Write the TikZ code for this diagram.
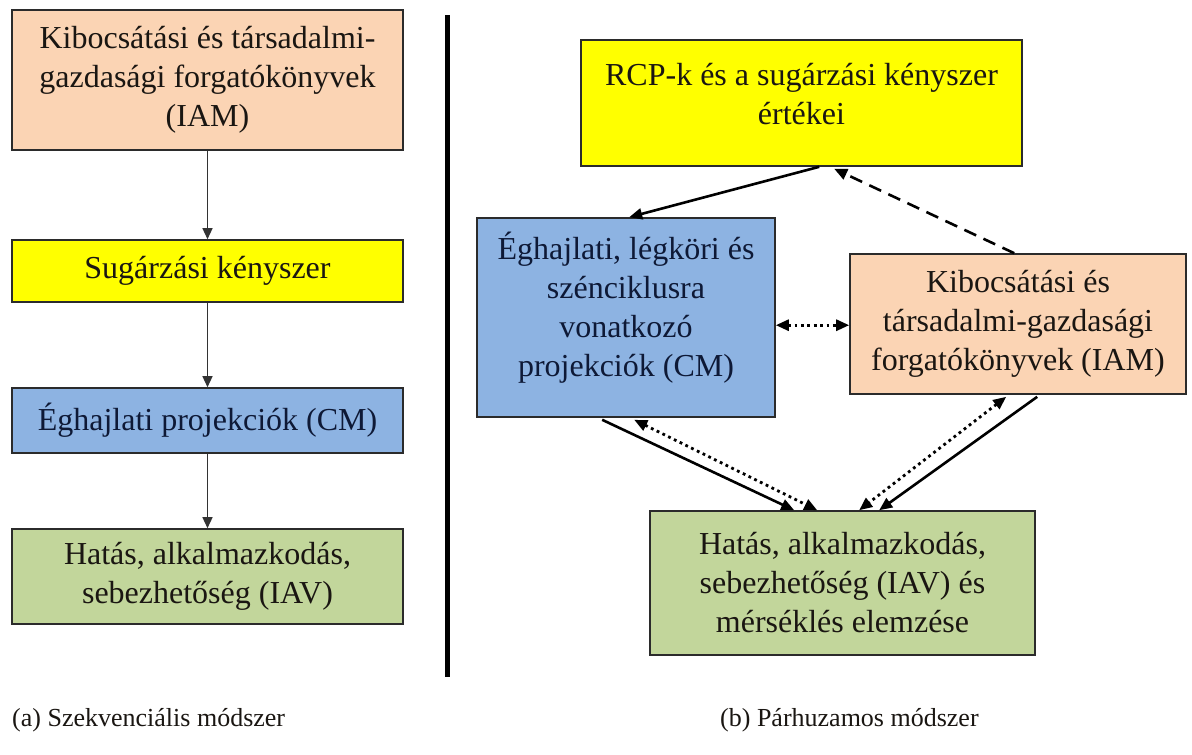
\documentclass[tikz,border=0pt]{standalone}
\usepackage{fontspec}
\setmainfont{Liberation Serif}
\usetikzlibrary{arrows.meta,calc}
\definecolor{peachc}{HTML}{FBD4B4}
\definecolor{yellowc}{HTML}{FFFF00}
\definecolor{bluec}{HTML}{8DB3E2}
\definecolor{greenc}{HTML}{C2D69B}
\definecolor{edgec}{HTML}{2B2B2B}
\definecolor{txtc}{HTML}{1A1612}
\definecolor{bluetxt}{HTML}{0E1936}
\definecolor{thinarr}{HTML}{333333}
\begin{document}
\begin{tikzpicture}[x=1pt,y=-1pt,
  box/.style={draw=edgec, line width=1.6pt, align=center, inner sep=0pt,
    text=txtc, font=\fontsize{32}{39}\selectfont},
  boxtext/.style={align=center, inner sep=0pt, text=txtc, font=\fontsize{32}{39}\selectfont},
  capt/.style={anchor=west, inner sep=0pt, text=txtc, font=\fontsize{26}{30}\selectfont},
  thin/.style={draw=thinarr, line width=1.4pt, -{Triangle[length=11pt,width=10pt]}},
  solidarr/.style={draw=black, line width=2.6pt, -{Triangle[length=13pt,width=11pt]}},
  dashedarr/.style={draw=black, line width=2.6pt, dash pattern=on 13pt off 8pt, -{Triangle[length=13pt,width=11pt]}},
  dottedarr/.style={draw=black, line width=2.8pt, dash pattern=on 2.8pt off 3.6pt, {Triangle[length=13pt,width=11pt]}-{Triangle[length=13pt,width=11pt]}}
]
\useasboundingbox (0,0) rectangle (1192,755);
\fill[white] (0,0) rectangle (1192,755);

% left column
\node[box, fill=peachc, minimum width=391pt, minimum height=140pt] (l1) at (207.5,80)
  {Kibocsátási és társadalmi-\\gazdasági forgatókönyvek\\(IAM)};
\node[box, fill=yellowc, minimum width=391pt, minimum height=62pt] (l2) at (207.5,271)
  {Sugárzási kényszer};
\node[box, fill=bluec, text=bluetxt, minimum width=391pt, minimum height=65pt] (l3) at (207.5,420.5)
  {Éghajlati projekciók (CM)};
\node[box, fill=greenc, minimum width=391pt, minimum height=95pt] (l4) at (207.5,576.5)
  {Hatás, alkalmazkodás,\\sebezhetőség (IAV)};
\draw[thin] (l1.south) -- (l2.north);
\draw[thin] (l2.south) -- (l3.north);
\draw[thin] (l3.south) -- (l4.north);

% divider
\draw[line width=5pt, black] (447,15) -- (447,677);

% right part
\node[box, fill=yellowc, minimum width=441pt, minimum height=126pt] (rcp) at (801.5,103) {};
\node[boxtext] (rcptxt) at ($(rcp.center)+(0,-9)$) {RCP-k és a sugárzási kényszer\\értékei};
\node[box, fill=bluec, minimum width=298pt, minimum height=199pt] (cm) at (626,317.5) {};
\node[boxtext, text=bluetxt] (cmtxt) at ($(cm.center)+(0,-10)$)
  {Éghajlati, légköri és\\szénciklusra\\vonatkozó\\projekciók (CM)};
\node[box, fill=peachc, minimum width=336pt, minimum height=140pt] (iam) at (1018,324)
  {Kibocsátási és\\társadalmi-gazdasági\\forgatókönyvek (IAM)};
\node[box, fill=greenc, minimum width=385pt, minimum height=144pt] (iav) at (842.5,583)
  {Hatás, alkalmazkodás,\\sebezhetőség (IAV) és\\mérséklés elemzése};

\draw[solidarr] ($(rcp.south west)+(239,0)$) -- ($(cm.north west)+(153,0)$);
\draw[dashedarr] ($(iam.north west)+(165,0)$) -- ($(rcp.south west)+(254,2)$);
\draw[dottedarr] ($(cm.north east)+(0,108)$) -- ($(iam.north west)+(0,72)$);
\draw[solidarr] ($(cm.south west)+(126,2)$) -- ($(iav.north west)+(145,0)$);
\draw[dottedarr] ($(cm.south west)+(158,2)$) -- ($(iav.north west)+(168,0)$);
\draw[dottedarr] ($(iam.south west)+(157,2)$) -- ($(iav.north west)+(210,0)$);
\draw[solidarr] ($(iam.south west)+(188,2)$) -- ($(iav.north west)+(230,0)$);

% captions
\node[capt] (ca) at (12,720) {(a) Szekvenciális módszer};
\node[capt] (cb) at (720,720) {(b) Párhuzamos módszer};
\end{tikzpicture}
\end{document}
